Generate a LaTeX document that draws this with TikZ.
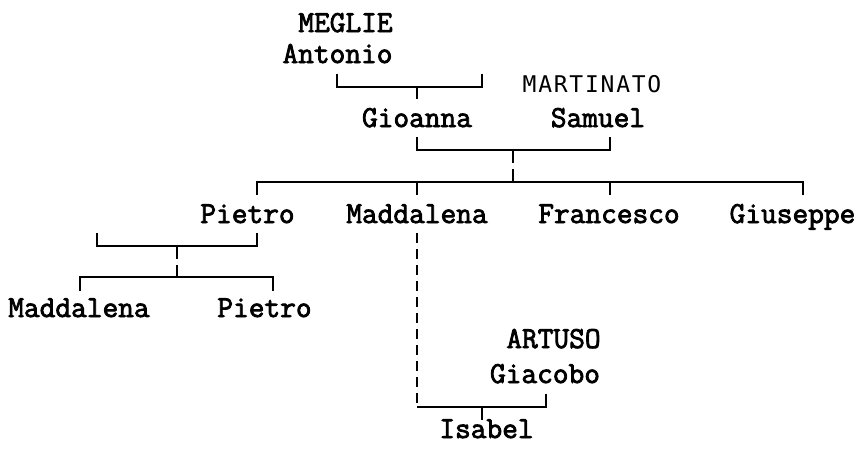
\documentclass[tikz,border=0pt]{standalone}
\usepackage{fontspec}
\newfontfamily\namefont[FakeBold=2.6]{Latin Modern Mono}
\newfontfamily\martfont{DejaVu Sans Mono}
\newcommand\mcell[1]{\makebox[15.6pt]{#1}}
\begin{document}
\begin{tikzpicture}[x=1pt,y=-1pt,line width=1.8pt,
  nm/.style={inner sep=0pt,anchor=base,font=\namefont\fontsize{30.5}{30.5}\selectfont},
  sn/.style={inner sep=0pt,anchor=base,font=\martfont\fontsize{23}{23}\selectfont},
  stemline/.style={dash pattern=on 13pt off 6pt},
  linkline/.style={dash pattern=on 10pt off 6pt}]
\useasboundingbox (0,0) rectangle (860,453);
% names
\node[nm] (meglie) at (345.5,32) {MEGLIE};
\node[nm] (antonio) at (337.5,63) {Antonio};
\node[sn] (martinato) at (592,92) {\mcell{M}\mcell{A}\mcell{R}\mcell{T}\mcell{I}\mcell{N}\mcell{A}\mcell{T}\mcell{O}};
\node[nm] (gioanna) at (417,127) {Gioanna};
\node[nm] (samuel) at (598,127) {Samuel};
\node[nm] (pietro) at (247.5,223) {Pietro};
\node[nm] (madd) at (417,223) {Maddalena};
\node[nm] (fran) at (609,223) {Francesco};
\node[nm] (gius) at (792.5,223) {Giuseppe};
\node[nm] (madd2) at (79,317) {Maddalena};
\node[nm] (pietro2) at (264.5,317) {Pietro};
\node[nm] (artuso) at (553.5,348) {ARTUSO};
\node[nm] (giacobo) at (545,383) {Giacobo};
\node[nm] (isabel) at (486.5,438) {Isabel};
% bracket Antonio
\coordinate (a1) at (337,74);
\coordinate (a2) at (482,74);
\coordinate (am) at (417,87);
\coordinate (ae) at (417,99);
\draw (a1) -- ++(0,13) -| (a2);
\draw (am) -- (ae);
% bracket Gioanna - Samuel
\coordinate (g1) at (417,137);
\coordinate (g2) at (610,137);
\coordinate (gm) at (513,150);
\coordinate (ge) at (513,182);
\draw (g1) -- ++(0,13) -| (g2);
\draw[stemline] (gm) -- (ge);
% children bar
\coordinate (k1) at (257,195);
\coordinate (k2) at (417,195);
\coordinate (k3) at (610,195);
\coordinate (k4) at (803,195);
\draw (k1) -- ++(0,-13) -| (k4);
\draw (k2) -- ++(0,-13);
\draw (k3) -- ++(0,-13);
% bracket Pietro
\coordinate (p1) at (97,233);
\coordinate (p2) at (257,233);
\coordinate (pm) at (177,246);
\coordinate (pe) at (177,277);
\draw (p1) -- ++(0,13) -| (p2);
\draw[stemline] (pm) -- (pe);
\coordinate (q1) at (80,291);
\coordinate (q2) at (273,291);
\draw (q1) -- ++(0,-14) -| (q2);
% Maddalena - Giacobo
\coordinate (m1) at (417,233);
\coordinate (m2) at (417,407);
\coordinate (m3) at (546,394);
\coordinate (im) at (482,407);
\coordinate (ie) at (482,420);
\draw[linkline] (m1) -- (m2);
\draw (m2) -| (m3);
\draw (im) -- (ie);
\end{tikzpicture}
\end{document}
